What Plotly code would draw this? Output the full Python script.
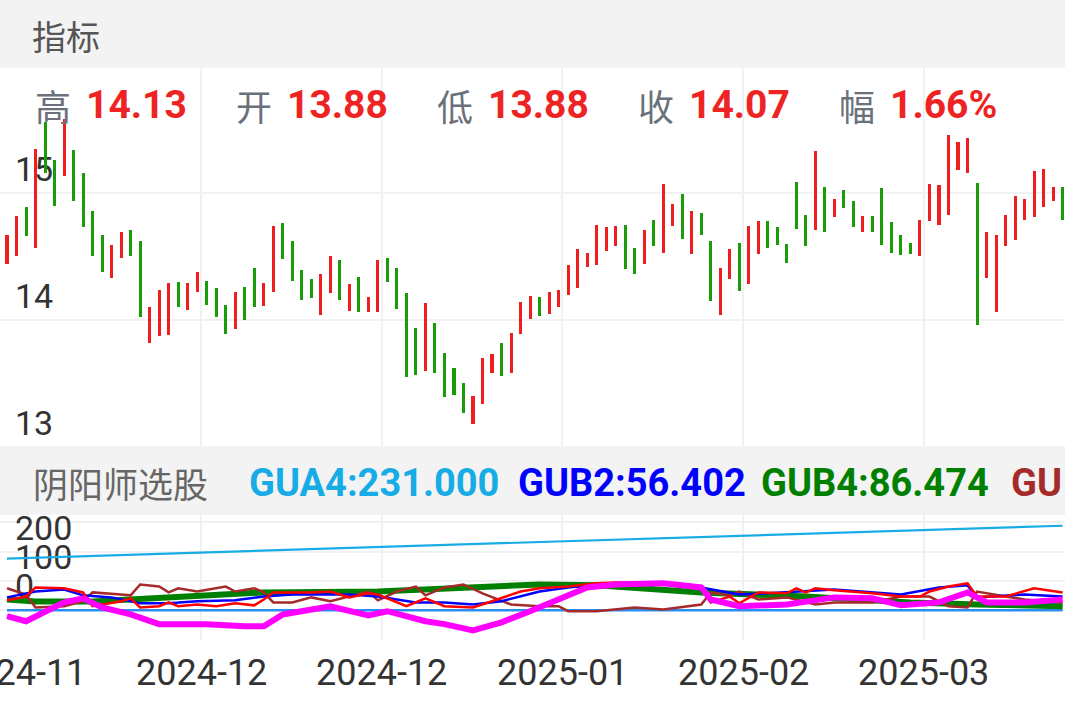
import plotly.graph_objects as go

W, H = 1065, 708

# ---- price bars (oldest first) ----
highs = [14.67, 14.82, 14.89, 15.35, 15.56, 15.26, 15.58, 15.34, 15.16, 14.86,
         14.67, 14.59, 14.69, 14.71, 14.62, 14.10, 14.24, 14.29, 14.30, 14.29,
         14.38, 14.31, 14.25, 14.12, 14.22, 14.26, 14.41, 14.29, 14.74, 14.76,
         14.62, 14.39, 14.32, 14.36, 14.50, 14.47, 14.28, 14.34, 14.18, 14.47,
         14.49, 14.41, 14.21, 13.94, 14.13, 13.98, 13.74, 13.62, 13.50, 13.40,
         13.70, 13.73, 13.82, 13.90, 14.14, 14.19, 14.18, 14.22, 14.24, 14.43,
         14.56, 14.53, 14.75, 14.73, 14.74, 14.75, 14.57, 14.71, 14.79, 15.07,
         14.91, 14.99, 14.86, 14.84, 14.62, 14.41, 14.56, 14.61, 14.74, 14.78,
         14.78, 14.73, 14.60, 15.09, 14.83, 15.33, 15.05, 14.95, 15.02, 14.94,
         14.82, 14.82, 15.04, 14.77, 14.67, 14.61, 14.79, 15.07, 15.06, 15.46,
         15.40, 15.43, 15.08, 14.69, 14.67, 14.83, 14.98, 14.95, 15.17, 15.19,
         15.05, 15.05]
lows = [14.44, 14.50, 14.66, 14.57, 15.16, 14.90, 15.13, 14.94, 14.73, 14.50,
        14.38, 14.33, 14.49, 14.50, 14.02, 13.82, 13.87, 13.88, 14.10, 14.08,
        14.22, 14.12, 14.02, 13.89, 13.93, 14.00, 14.10, 14.11, 14.22, 14.48,
        14.31, 14.16, 14.17, 14.04, 14.21, 14.16, 14.07, 14.06, 14.06, 14.06,
        14.30, 14.09, 13.55, 13.57, 13.60, 13.58, 13.39, 13.41, 13.27, 13.18,
        13.34, 13.58, 13.56, 13.58, 13.89, 14.01, 14.03, 14.05, 14.10, 14.20,
        14.25, 14.42, 14.43, 14.54, 14.58, 14.40, 14.36, 14.44, 14.58, 14.53,
        14.74, 14.64, 14.52, 14.67, 14.15, 14.04, 14.32, 14.23, 14.28, 14.52,
        14.57, 14.59, 14.45, 14.72, 14.58, 14.71, 14.69, 14.81, 14.88, 14.73,
        14.69, 14.69, 14.59, 14.53, 14.51, 14.52, 14.50, 14.78, 14.75, 14.83,
        15.18, 15.16, 13.96, 14.33, 14.06, 14.58, 14.63, 14.79, 14.81, 14.89,
        14.94, 14.79]
# 1 = up day (red), 0 = down day (green)
up = [1, 1, 0, 1, 0, 0, 1, 0, 0, 0, 0, 1, 1, 0, 0, 1, 1, 1, 0, 1,
      1, 0, 0, 0, 1, 0, 0, 1, 1, 0, 0, 0, 0, 1, 1, 0, 1, 0, 1, 1,
      0, 0, 0, 0, 1, 0, 0, 0, 0, 1, 1, 1, 0, 1, 1, 1, 0, 1, 1, 1,
      1, 1, 1, 1, 1, 0, 0, 1, 0, 1, 1, 0, 1, 0, 0, 1, 1, 0, 1, 1,
      0, 0, 0, 0, 0, 1, 0, 1, 0, 0, 1, 0, 0, 0, 0, 0, 1, 1, 1, 1,
      1, 1, 0, 1, 1, 1, 1, 1, 1, 1, 1, 0]

date_ticks = ["2024-11", "2024-12", "2024-12", "2025-01", "2025-02", "2025-03"]
price_ticks = [13, 14, 15]
ind_ticks = [-100, 0, 100, 200, 300]
ind_tick_text = ["", "0", "100", "200", ""]

quote_labels = ["高", "开", "低", "收", "幅"]
quote_values = ["14.13", "13.88", "13.88", "14.07", "1.66%"]

ind_names = ["GUA4", "GUB2", "GUB4", "GU"]
ind_values = ["231.000", "56.402", "86.474", None]

# ---- indicator lines (bar index, value) ----
gua4_x = [0, 28, 56, 111]
gua4_y = [176, 204, 234, 288]
base_x = [0, 111]
base_y = [0, 0]
gub2_x = [0, 3, 6, 8, 11, 14, 17, 20, 24, 27, 30, 36, 39, 43, 46, 49, 52, 56, 59, 62,
          69, 73, 77, 80, 87, 91, 94, 98, 101, 102, 107, 111]
gub2_y = [44, 64, 71, 51, 44, 24, 24, 31, 34, 47, 54, 54, 47, 27, 27, 20, 31, 64, 78, 88,
          92, 78, 54, 58, 71, 61, 54, 78, 85, 44, 54, 47]
gub4_x = [0, 3, 9, 17, 27, 39, 50, 56, 62, 73, 84, 95, 102, 111]
gub4_y = [37, 30, 30, 44, 61, 64, 78, 88, 85, 61, 47, 27, 20, 14]
red_x = [0, 2, 3, 6, 8, 9, 12, 13, 14, 16, 17, 18, 20, 22, 24, 26, 27, 28, 30, 32,
         34, 36, 38, 39, 42, 44, 46, 49, 51, 54, 56, 59, 62, 64, 69, 73, 74, 76, 77, 79,
         82, 83, 84, 85, 87, 91, 94, 96, 97, 99, 101, 102, 105, 108, 111]
red_y = [34, 47, 78, 75, 61, 14, 31, 41, 10, 14, 27, 14, 20, 14, 24, 17, 37, 61, 61, 61,
         64, 44, 58, 54, 14, 41, 14, 10, 31, 64, 75, 81, 92, 95, 92, 78, 27, 47, 24, 61,
         58, 75, 61, 75, 68, 58, 47, 47, 64, 81, 92, 47, 47, 75, 61]
brown_x = [0, 2, 3, 6, 8, 9, 12, 13, 14, 16, 17, 18, 20, 23, 24, 26, 27, 28, 30, 32,
           34, 36, 38, 39, 41, 43, 44, 46, 48, 50, 53, 56, 58, 59, 62, 66, 69, 73, 74, 76,
           77, 79, 82, 85, 87, 91, 94, 97, 99, 101, 102, 105, 107, 111]
brown_y = [75, 54, 10, 14, 31, 61, 54, 51, 88, 81, 61, 75, 64, 81, 64, 75, 61, 27, 27, 44,
           31, 47, 64, 34, 64, 81, 51, 78, 88, 58, 20, 14, 14, -3, -3, 10, 3, 20, 61, 51,
           64, 37, 44, 20, 27, 27, 47, 47, 14, 10, 64, 47, 37, 27]
mag_x = [0, 2, 6, 8, 10, 13, 16, 21, 25, 27, 29, 32, 34, 38, 40, 44, 46, 49, 52, 55,
         58, 61, 64, 69, 73, 74, 77, 82, 87, 91, 94, 98, 101, 103, 107, 111]
mag_y = [-20, -37, 27, 41, 10, -14, -47, -47, -54, -54, -14, 3, 14, -17, -3, -37, -47, -68, -41, -3,
         37, 78, 88, 92, 78, 37, 14, 20, 44, 41, 17, 27, 61, 27, 27, 37]

RED, GREEN = "#ef1f1f", "#1a9c08"
GRID = "#f0f1f3"
BAND = "#f3f3f3"
LABEL_FONT = "Roboto, Noto Sans CJK SC"
CJK_FONT = "Noto Sans CJK SC"


def py(px):
    """pixel row from top -> paper fraction"""
    return 1 - px / H


def px_x(px):
    return px / W


n = len(highs)
x_range = [-0.736, n - 1 + 0.25]
grid_x = [1.4 + 19 * k for k in range(len(date_ticks))]

fig = go.Figure()

fig.add_trace(go.Bar(
    x=list(range(n)),
    y=[h - l for h, l in zip(highs, lows)],
    base=lows,
    width=0.32,
    marker=dict(color=[RED if u else GREEN for u in up], line=dict(width=0)),
    xaxis="x", yaxis="y", hoverinfo="skip",
))

lines = [
    (gua4_x, gua4_y, "#18ace6", 2.2),
    (base_x, base_y, "#2a8ef0", 2.5),
    (gub4_x, gub4_y, "#008000", 6),
    (brown_x, brown_y, "#a52a2a", 2.5),
    (gub2_x, gub2_y, "#0000ff", 2.5),
    (red_x, red_y, "#ff0000", 2.5),
    (mag_x, mag_y, "#ff00ff", 6),
]
for xs, ys, color, width in lines:
    fig.add_trace(go.Scatter(
        x=xs, y=ys, mode="lines",
        line=dict(color=color, width=width),
        xaxis="x2", yaxis="y2", hoverinfo="skip",
    ))

# header bands (the lower one also hides the indicator pane's upper grid)
shapes = [
    dict(type="rect", xref="paper", yref="paper", x0=0, x1=1, y0=py(68), y1=1,
         fillcolor=BAND, line=dict(width=0), layer="above"),
    dict(type="rect", xref="paper", yref="paper", x0=0, x1=1, y0=py(515), y1=py(447),
         fillcolor=BAND, line=dict(width=0), layer="above"),
]

annotations = [
    dict(text="指标", x=px_x(30), y=py(35), font=dict(size=34, color="#555555", family=CJK_FONT)),
    dict(text="阴阳师选股", x=px_x(31), y=py(482), font=dict(size=35, color="#666666", family=CJK_FONT)),
]
for k, (lab, val) in enumerate(zip(quote_labels, quote_values)):
    annotations.append(dict(text=lab, x=px_x(33 + 201 * k), y=py(105),
                            font=dict(size=36, color="#6b717b", family=CJK_FONT)))
    annotations.append(dict(text=f"<b>{val}</b>", x=px_x(84 + 201 * k), y=py(105),
                            font=dict(size=39, color="#ee2424", family=LABEL_FONT)))

ind_colors = ["#18ace6", "#0000ff", "#008000", "#a52a2a"]
ind_left = [247, 516, 759, 1009]
for name, val, color, left in zip(ind_names, ind_values, ind_colors, ind_left):
    text = name if val is None else f"{name}:{val}"
    annotations.append(dict(text=f"<b>{text}</b>", x=px_x(left), y=py(483),
                            font=dict(size=38, color=color, family=LABEL_FONT)))

for a in annotations:
    a.update(xref="paper", yref="paper", xanchor="left", yanchor="middle", showarrow=False)

# date labels on the shared time scale (the first one is cut by the left edge)
for gx, label in zip(grid_x, date_ticks):
    annotations.append(dict(text=label, x=gx, xref="x2", y=py(673), yref="paper",
                            xanchor="center", yanchor="middle", showarrow=False,
                            font=dict(size=36, color="#333333", family=LABEL_FONT)))

axis_common = dict(showgrid=True, gridcolor=GRID, gridwidth=2, zeroline=False,
                   showline=False, fixedrange=True, layer="below traces")

fig.update_layout(
    width=W, height=H,
    margin=dict(l=0, r=0, t=0, b=0),
    paper_bgcolor="white", plot_bgcolor="white",
    showlegend=False, bargap=0,
    font=dict(family=LABEL_FONT, color="#333333"),
    shapes=shapes, annotations=annotations,
    xaxis=dict(domain=[0, 1], anchor="y", range=x_range, tickvals=grid_x,
               showticklabels=False, ticks="", **axis_common),
    yaxis=dict(domain=[py(448), py(68)], anchor="x", range=[12.992, 15.984],
               tickvals=price_ticks, ticklabelposition="inside top", ticklabelstandoff=12,
               tickfont=dict(size=34, color="#333333"), ticks="", **axis_common),
    xaxis2=dict(domain=[0, 1], anchor="y2", range=x_range, tickvals=grid_x,
                showticklabels=False, ticks="", **axis_common),
    yaxis2=dict(domain=[py(640), py(447)], anchor="x2", range=[-101, 556],
                tickvals=ind_ticks, ticktext=ind_tick_text,
                ticklabelposition="inside top", ticklabelstandoff=12,
                tickfont=dict(size=34, color="#333333"), ticks="", **axis_common),
)

fig.write_html("out.html", config={"displayModeBar": False},
               post_script="document.body.style.margin = '0';")
